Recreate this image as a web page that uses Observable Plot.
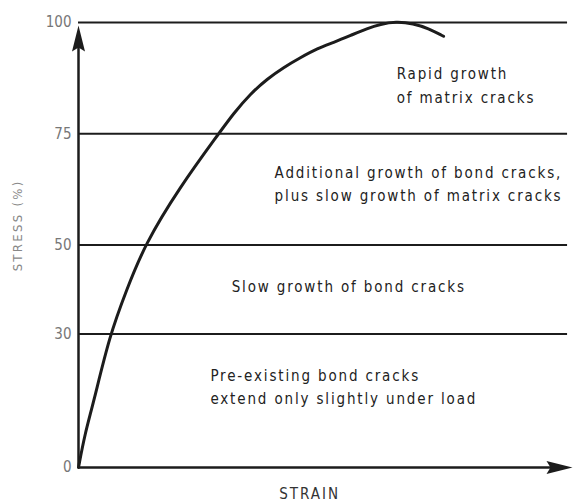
<!DOCTYPE html>
<html>
<head>
<meta charset="utf-8">
<script src="https://cdn.jsdelivr.net/npm/d3@7"></script>
<script src="https://cdn.jsdelivr.net/npm/@observablehq/plot@0.6"></script>
<style>
  html, body { margin: 0; padding: 0; background: #fff; }
  #chart svg { display: block; }
</style>
</head>
<body>
<div id="chart"></div>
<script>
// Stress-strain curve (strain in arbitrary units 0-100, stress in %)
const strain = [0, 1.3, 3.0, 6.3, 9.7, 13.4, 20.5, 28.1, 31.4, 34.8, 38.3, 41.5, 44.9, 48.4, 51.6, 55.1, 58.5, 61.1, 64.2, 67.8, 70.8, 73.9];
const stress = [0, 7.6, 14.4, 29.7, 39.8, 50.1, 63.0, 74.6, 79.6, 84.0, 87.4, 89.9, 92.1, 94.2, 95.5, 97.1, 98.7, 99.6, 100.2, 99.8, 98.7, 96.9];

// Stage boundaries (stress %)
const levels = [30, 50, 75, 100];
const yTicks = [0, 30, 50, 75, 100];

// Stage annotations
const noteText = [
  "Rapid growth\nof matrix cracks",
  "Additional growth of bond cracks,\nplus slow growth of matrix cracks",
  "Slow growth of bond cracks",
  "Pre-existing bond cracks\nextend only slightly under load"
];
const noteStrain = [64.4, 39.7, 31.0, 26.7];
const noteStress = [86.3, 64.1, 41.1, 18.6];

const xTitle = "STRAIN";
const yTitle = "STRESS (%)";

const curve = strain.map((s, i) => ({strain: s, stress: stress[i]}));
const notes = noteText.map((t, i) => ({text: t, x: noteStrain[i], y: noteStress[i]}));

const ink = "#1c1c1c";
const font = "DejaVu Sans Condensed, DejaVu Sans, sans-serif";

// narrow filled arrowhead, tip at the origin pointing up
const arrowHead = {
  draw(ctx) {
    ctx.moveTo(0, 0);
    ctx.lineTo(6.5, 26);
    ctx.lineTo(0, 22);
    ctx.lineTo(-6.5, 26);
    ctx.closePath();
  }
};

const chart = Plot.plot({
  width: 573,
  height: 503,
  marginLeft: 78,
  marginRight: 1,
  marginTop: 22,
  marginBottom: 36,
  style: {fontFamily: font, background: "#fff"},
  x: {domain: [0, 100], axis: null},
  y: {domain: [0, 100]},
  marks: [
    Plot.axisY({ticks: yTicks, tickSize: 0, tickPadding: 7, fontSize: 15, color: "#777", label: null}),
    Plot.ruleY(levels, {x1: 0, x2: 99, stroke: ink, strokeWidth: 2}),
    Plot.ruleY([0], {x1: 0, x2: 97, stroke: ink, strokeWidth: 2.5}),
    Plot.ruleX([0], {y1: 0, y2: 96, stroke: ink, strokeWidth: 2.5}),
    Plot.dot([0], {x: 0, y: 99.3, symbol: arrowHead, fill: ink, stroke: "none"}),
    Plot.dot([0], {x: 100, y: 0, symbol: arrowHead, fill: ink, stroke: "none", rotate: 90}),
    Plot.line(curve, {x: "strain", y: "stress", curve: "basis", stroke: ink, strokeWidth: 3}),
    Plot.text(notes, {x: "x", y: "y", text: "text", textAnchor: "start", lineHeight: 1.55,
      fontSize: 15, fill: "#222"}),
    Plot.text([xTitle], {x: 46.8, y: 0, text: d => d, dy: 27, fontSize: 15, fill: "#333"}),
    Plot.text([yTitle], {x: 0, y: 54.4, text: d => d, dx: -61, rotate: -90, fontSize: 13, fill: "#888"})
  ]
});

// letter tracking to mimic the lettering-guide typeface
d3.select(chart).selectAll("text").each(function () {
  const t = this.textContent;
  if (t === xTitle) this.style.letterSpacing = "2px";
  else if (t === yTitle) this.style.letterSpacing = "2.3px";
  else if (noteText.some(n => n.replace(/\n/g, "") === t)) this.style.letterSpacing = "1.85px";
});

document.getElementById("chart").append(chart);
</script>
</body>
</html>
